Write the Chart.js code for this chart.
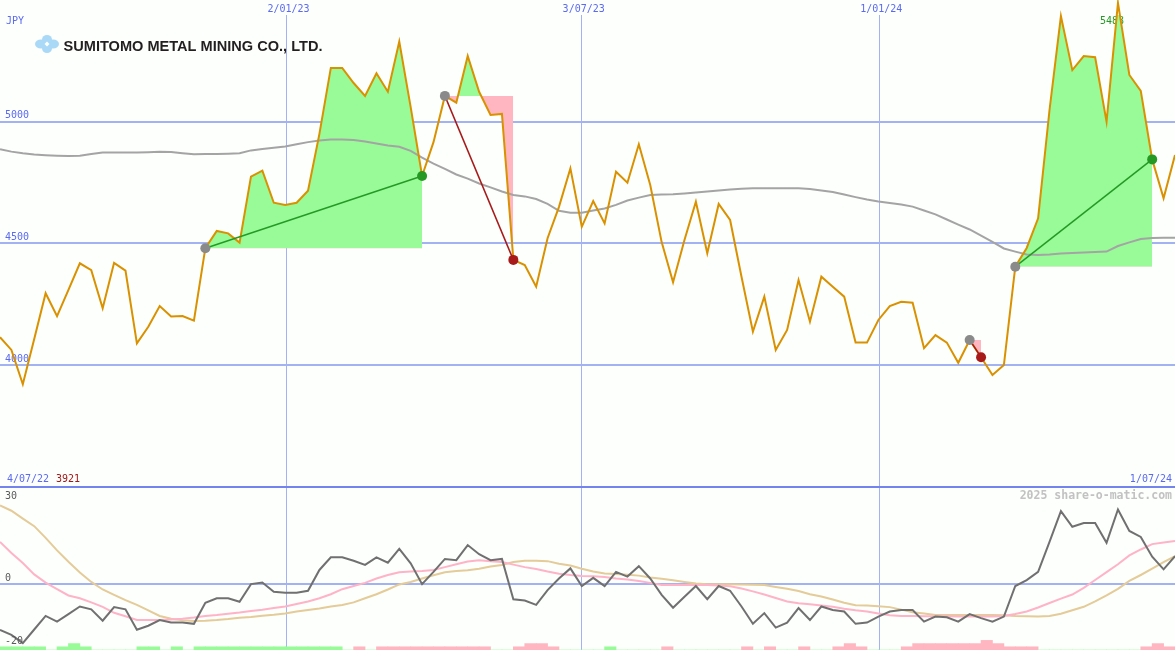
<!DOCTYPE html>
<html>
<head>
<meta charset="utf-8">
<title>Sumitomo Metal Mining</title>
<script src="https://cdn.jsdelivr.net/npm/chart.js@4.4.1/dist/chart.umd.min.js"></script>
<style>
  html, body { margin: 0; padding: 0; background: #fcfffc; }
  #wrap { position: relative; width: 1175px; height: 650px; overflow: hidden; }
  #priceChart { position: absolute; left: 0; top: 0; }
  #oscChart { position: absolute; left: 0; top: 485px; }
</style>
</head>
<body>
<div id="wrap">
  <canvas id="priceChart" width="1175" height="485"></canvas>
  <canvas id="oscChart" width="1175" height="165"></canvas>
</div>
<script>
// ! weekly closes, 4/07/22 .. 1/07/24 (JPY)
const price = [
  4114, 4062, 3921, 4107, 4295, 4201, 4309, 4418, 4390, 4233,
  4420, 4388, 4089, 4157, 4242, 4199, 4201, 4182, 4480, 4551,
  4541, 4503, 4774, 4799, 4667, 4658, 4667, 4716, 4950, 5221,
  5221, 5159, 5106, 5199, 5123, 5329, 5060, 4777, 4916, 5106,
  5078, 5270, 5123, 5028, 5032, 4432, 4411, 4322, 4521, 4650,
  4808, 4568, 4674, 4582, 4794, 4749, 4907, 4740, 4505, 4340,
  4514, 4671, 4459, 4662, 4596, 4363, 4137, 4281, 4062, 4144,
  4349, 4178, 4363, 4322, 4281, 4092, 4092, 4185, 4242, 4260,
  4256, 4069, 4123, 4092, 4009, 4103, 4032, 3959, 4000, 4404,
  4481, 4603, 5048, 5434, 5212, 5270, 5265, 5000, 5488, 5192,
  5127, 4845, 4685, 4863,
];

// moving average (grey line)
const movingAvg = [
  4887, 4877, 4870, 4865, 4862, 4860, 4859, 4860, 4867, 4873,
  4873, 4873, 4873, 4874, 4876, 4875, 4870, 4866, 4867, 4867,
  4868, 4870, 4882, 4888, 4893, 4898, 4907, 4916, 4923, 4927,
  4927, 4925, 4919, 4910, 4902, 4897, 4880, 4852, 4828, 4806,
  4783, 4766, 4746, 4730, 4713, 4699, 4693, 4682, 4662, 4634,
  4626, 4626, 4635, 4643, 4658, 4676, 4688, 4699, 4701, 4702,
  4705, 4709, 4713, 4717, 4721, 4724, 4726, 4726, 4726, 4726,
  4726, 4723, 4717, 4711, 4701, 4690, 4680, 4672, 4666, 4660,
  4651, 4635, 4619, 4598, 4577, 4557, 4532, 4506, 4479, 4466,
  4454, 4452, 4454, 4458, 4460, 4462, 4464, 4466, 4489, 4504,
  4518, 4522, 4523, 4523,
];

// lower panel: oscillator + two averages of it
const osc = [
  -14.7, -16.3, -18.9, -14.6, -10.3, -12.1, -9.7, -7.3, -8.2, -11.8,
  -7.5, -8.2, -14.7, -13.4, -11.6, -12.4, -12.4, -12.8, -6.1, -4.7,
  -4.7, -5.8, -0.2, 0.3, -2.6, -2.9, -2.9, -2.3, 4.3, 8.3,
  8.3, 7.2, 5.9, 8.3, 6.6, 11.0, 6.4, -0.2, 3.7, 7.8,
  7.4, 12.2, 9.3, 7.4, 7.8, -5.0, -5.4, -6.8, -2.1, 1.6,
  4.8, -0.8, 1.8, -0.8, 3.7, 2.2, 5.5, 1.6, -3.6, -7.7,
  -4.2, -0.8, -5.0, -0.8, -2.3, -7.3, -12.8, -9.4, -14.0, -12.4,
  -7.8, -11.6, -7.3, -8.4, -8.9, -12.8, -12.4, -10.5, -8.9, -8.4,
  -8.4, -12.1, -10.5, -10.7, -12.1, -9.7, -11.0, -12.1, -10.5, -0.8,
  1.1, 3.7, 13.2, 23.0, 18.0, 19.2, 19.2, 12.9, 23.5, 16.7,
  14.8, 8.5, 4.5, 8.7,
];

const oscFast = [
  13.2, 9.7, 6.5, 2.9, 0.3, -1.8, -3.8, -4.7, -6.0, -7.4,
  -9.3, -10.4, -11.6, -11.6, -11.6, -11.4, -11.2, -10.8, -10.3, -10.0,
  -9.6, -9.2, -8.7, -8.3, -7.8, -7.3, -6.5, -5.7, -4.7, -3.4,
  -1.8, -0.8, 0.2, 1.6, 2.7, 3.6, 3.8, 4.0, 4.3, 5.2,
  6.1, 7.0, 7.4, 7.1, 6.8, 6.0, 5.2, 4.6, 3.8, 3.1,
  2.7, 2.4, 2.3, 2.1, 1.6, 1.3, 0.8, 0.2, -0.5, -0.5,
  -0.5, -0.5, -0.5, -0.6, -0.9, -1.6, -2.5, -3.5, -4.6, -5.7,
  -6.3, -6.6, -7.0, -7.4, -8.0, -8.5, -8.9, -9.5, -10.1, -10.3,
  -10.3, -10.4, -10.4, -10.4, -10.5, -10.5, -10.5, -10.5, -10.3, -9.7,
  -8.9, -7.6, -6.2, -4.8, -3.5, -1.4, 1.1, 3.6, 6.1, 8.9,
  10.8, 12.5, 13.0, 13.5,
];

const oscSlow = [
  24.8, 23.1, 20.6, 18.2, 14.5, 10.5, 6.9, 3.5, 0.5, -1.9,
  -3.6, -5.3, -6.8, -8.5, -10.3, -11.2, -11.7, -11.9, -11.8, -11.6,
  -11.3, -10.9, -10.6, -10.2, -9.9, -9.5, -8.9, -8.4, -7.9, -7.3,
  -6.8, -6.0, -4.7, -3.4, -1.9, -0.3, 0.5, 1.6, 2.6, 3.6,
  4.0, 4.2, 4.7, 5.4, 5.9, 6.8, 7.2, 7.2, 7.1, 6.3,
  5.7, 4.7, 3.8, 3.2, 3.0, 2.8, 2.5, 1.9, 1.5, 1.0,
  0.5, 0.0, -0.2, -0.2, -0.2, -0.3, -0.4, -0.5, -1.1, -1.7,
  -2.4, -3.4, -4.1, -5.1, -6.1, -6.9, -7.0, -7.2, -7.5, -8.3,
  -9.1, -9.5, -10.0, -10.0, -10.0, -10.0, -10.0, -10.0, -10.1, -10.3,
  -10.4, -10.5, -10.3, -9.6, -8.5, -7.4, -5.7, -3.8, -1.7, 0.8,
  2.7, 4.7, 6.8, 8.7,
];

// signal strength bars (+ green, - pink)
const signal = [
  1, 1, 1, 1, 0, 1, 2, 1, 0, 0,
  0, 0, 1, 1, 0, 1, 0, 1, 1, 1,
  1, 1, 1, 1, 1, 1, 1, 1, 1, 1,
  0, -1, 0, -1, -1, -1, -1, -1, -1, -1,
  -1, -1, -1, 0, 0, -1, -2, -2, -1, 0,
  0, 0, 0, 1, 0, 0, 0, 0, -1, 0,
  0, 0, 0, 0, 0, -1, 0, -1, 0, 0,
  -1, 0, 0, -1, -2, -1, 0, 0, 0, -1,
  -2, -2, -2, -2, -2, -2, -3, -2, -1, -1,
  -1, 0, 0, 0, 0, 0, 0, 0, 0, 0,
  -1, -2, -1, 0,
];

// trades: week index of buy and sell
const buyWeeks = [18, 39, 85, 89];
const sellWeeks = [37, 45, 86, 101];

const priceTicks = [4000, 4500, 5000];
const oscTicks = [30, 0, -20];
const gridWeeks = [25.11, 50.99, 77.08];
const gridLabels = ["2/01/23", "3/07/23", "1/01/24"];
const firstDate = "4/07/22";
const lastDate = "1/07/24";
const companyName = "SUMITOMO METAL MINING CO., LTD.";
const credit = "2025 share-o-matic.com";

// colours
const BLUE = "#5b6af0";
const GRID = "#a3b2f2";
const GREEN_FILL = "#98fb98";
const PINK_FILL = "#ffb6c1";
const GAIN = "#249a24";
const LOSS = "#a81a1a";

Chart.defaults.font.family = "'DejaVu Sans Mono', monospace";
Chart.defaults.font.size = 10;

const pts = (arr) => arr.map((v, i) => ({ x: i, y: v }));
const lastWeek = price.length - 1;
const maxVal = Math.max(...price);
const minVal = Math.min(...price);
const maxIdx = price.indexOf(maxVal);

const trades = buyWeeks.map((b, i) => ({ buy: b, sell: sellWeeks[i] }));

const fillSets = trades.map((t) => ({
  data: pts(price).slice(t.buy, t.sell + 1),
  borderColor: "rgba(0,0,0,0)",
  borderWidth: 0,
  pointRadius: 0,
  fill: {
    target: { value: price[t.buy] },
    above: GREEN_FILL,
    below: PINK_FILL,
  },
  order: 6,
  clip: false,
}));

const tradeLines = trades.map((t) => ({
  data: [
    { x: t.buy, y: price[t.buy] },
    { x: t.sell, y: price[t.sell] },
  ],
  borderColor: price[t.sell] > price[t.buy] ? GAIN : LOSS,
  borderWidth: 1.5,
  pointRadius: 0,
  order: 2,
  clip: false,
}));

const markerPts = [];
const markerCols = [];
trades.forEach((t) => {
  markerPts.push({ x: t.buy, y: price[t.buy] });
  markerCols.push("#8a8a8a");
  markerPts.push({ x: t.sell, y: price[t.sell] });
  markerCols.push(price[t.sell] > price[t.buy] ? GAIN : LOSS);
});

const xTicks = (s) => {
  s.ticks = gridWeeks.map((v) => ({ value: v }));
};

// y axes take no room and add no padding
const flatY = (s) => {
  s.width = 0;
  s.paddingTop = 0;
  s.paddingBottom = 0;
};

// ! top panel texts
const priceText = {
  id: "priceText",
  beforeDatasetsDraw(chart) {
    const { ctx, scales } = chart;
    ctx.save();
    ctx.font = "10px 'DejaVu Sans Mono'";
    ctx.textBaseline = "middle";
    ctx.textAlign = "left";
    ctx.fillStyle = BLUE;
    ctx.fillText("JPY", 6, 21.5);
    ctx.fillText(firstDate, 7, 479.5);
    ctx.fillStyle = "#a01818";
    ctx.fillText(String(minVal), 56, 479.5);
    ctx.fillStyle = BLUE;
    ctx.textAlign = "right";
    ctx.fillText(lastDate, 1172, 479.5);
    ctx.fillStyle = GAIN;
    ctx.textAlign = "center";
    ctx.fillText(String(maxVal), scales.x.getPixelForValue(maxIdx) - 6, 21);

    // logo
    ctx.fillStyle = "#a9d9f7";
    [[41, 44, 6, 4.5], [53, 44, 6, 4.5], [47, 39.5, 5, 4.5], [47, 48.5, 5, 4.5]].forEach(
      ([cx, cy, rx, ry]) => {
        ctx.beginPath();
        ctx.ellipse(cx, cy, rx, ry, 0, 0, Math.PI * 2);
        ctx.fill();
      }
    );
    ctx.fillStyle = "#fcfffc";
    ctx.beginPath();
    ctx.moveTo(47, 41.5);
    ctx.lineTo(49.5, 44);
    ctx.lineTo(47, 46.5);
    ctx.lineTo(44.5, 44);
    ctx.closePath();
    ctx.fill();

    ctx.fillStyle = "#231f20";
    ctx.font = "bold 15.5px 'Liberation Sans'";
    ctx.textAlign = "left";
    ctx.textBaseline = "alphabetic";
    const w = ctx.measureText(companyName).width;
    ctx.translate(63.5, 50.7);
    ctx.scale(259 / w, 1);
    ctx.fillText(companyName, 0, 0);
    ctx.restore();
  },
};

// ! chart 1 : price
new Chart(document.getElementById("priceChart"), {
  type: "line",
  data: {
    datasets: [
      ...fillSets,
      {
        data: pts(movingAvg),
        borderColor: "#a4a4a4",
        borderWidth: 2,
        pointRadius: 0,
        order: 5,
      },
      {
        data: pts(price),
        borderColor: "#da9100",
        borderWidth: 2,
        pointRadius: 0,
        order: 4,
        clip: false,
      },
      ...tradeLines,
      {
        data: markerPts,
        showLine: false,
        pointRadius: 5,
        pointBorderWidth: 0,
        pointBackgroundColor: markerCols,
        order: 1,
        clip: false,
      },
    ],
  },
  options: {
    responsive: false,
    animation: false,
    events: [],
    layout: { padding: 0, autoPadding: false },
    plugins: { legend: { display: false }, tooltip: { enabled: false } },
    scales: {
      x: {
        type: "linear",
        position: "top",
        min: 0,
        max: lastWeek,
        afterFit: (s) => { s.height = 15; },
        afterBuildTicks: xTicks,
        ticks: {
          autoSkip: false,
          maxRotation: 0,
          padding: 0,
          labelOffset: 2,
          color: BLUE,
          callback: (v, i) => gridLabels[i],
        },
        grid: { color: GRID, lineWidth: 1, drawTicks: false },
        border: { display: false },
      },
      y: {
        type: "linear",
        min: 3506.8,
        max: 5438.5,
        afterFit: flatY,
        afterBuildTicks: (s) => {
          s.ticks = priceTicks.map((v) => ({ value: v }));
        },
        ticks: {
          mirror: true,
          padding: 5,
          labelOffset: -6,
          color: BLUE,
          callback: (v) => String(v),
        },
        grid: { color: GRID, lineWidth: 2, drawTicks: false },
        border: { display: false },
      },
    },
  },
  plugins: [priceText],
});

// ! lower panel texts
const oscText = {
  id: "oscText",
  afterDraw(chart) {
    const { ctx, scales } = chart;
    ctx.save();
    ctx.strokeStyle = "#7384ee";
    ctx.lineWidth = 2;
    ctx.beginPath();
    ctx.moveTo(0, 2);
    ctx.lineTo(chart.width, 2);
    ctx.stroke();

    ctx.font = "10px 'DejaVu Sans Mono'";
    ctx.textBaseline = "middle";
    ctx.textAlign = "left";
    ctx.fillStyle = "#5a5a5a";
    const shift = [7, -5, -5];
    oscTicks.forEach((v, i) => {
      ctx.fillText(String(v), 5, scales.y.getPixelForValue(v) + shift[i]);
    });

    ctx.font = "bold 11.5px 'DejaVu Sans Mono'";
    ctx.fillStyle = "#c2c2c2";
    ctx.textAlign = "right";
    ctx.fillText(credit, 1172, 11);
    ctx.restore();
  },
};

// ! chart 2 : oscillator
new Chart(document.getElementById("oscChart"), {
  type: "line",
  data: {
    datasets: [
      {
        data: pts(osc),
        borderColor: "#707070",
        borderWidth: 2,
        pointRadius: 0,
        order: 1,
      },
      {
        data: pts(oscFast),
        borderColor: "#ffb3c8",
        borderWidth: 2,
        pointRadius: 0,
        order: 2,
      },
      {
        data: pts(oscSlow),
        borderColor: "#e4cb98",
        borderWidth: 2,
        pointRadius: 0,
        order: 3,
      },
      {
        type: "bar",
        yAxisID: "yb",
        data: signal.map((v, i) => ({ x: i + 0.5, y: Math.abs(v) })),
        backgroundColor: signal.map((v) => (v >= 0 ? GREEN_FILL : PINK_FILL)),
        borderWidth: 0,
        barPercentage: 1,
        categoryPercentage: 1,
        grouped: false,
        order: 4,
      },
    ],
  },
  options: {
    responsive: false,
    animation: false,
    events: [],
    layout: { padding: 0, autoPadding: false },
    plugins: { legend: { display: false }, tooltip: { enabled: false } },
    scales: {
      x: {
        type: "linear",
        position: "top",
        min: 0,
        max: lastWeek,
        offset: false,
        afterFit: (s) => { s.height = 0; },
        afterBuildTicks: xTicks,
        ticks: { display: false },
        grid: { color: GRID, lineWidth: 1, drawTicks: false, offset: false },
        border: { display: false },
      },
      y: {
        type: "linear",
        min: -21.11,
        max: 31.27,
        afterFit: flatY,
        afterBuildTicks: (s) => { s.ticks = [{ value: 0 }]; },
        ticks: { display: false },
        grid: { color: GRID, lineWidth: 2, drawTicks: false },
        border: { display: false },
      },
      yb: {
        type: "linear",
        display: false,
        min: 0,
        max: 51.5,
      },
    },
  },
  plugins: [oscText],
});
</script>
</body>
</html>
